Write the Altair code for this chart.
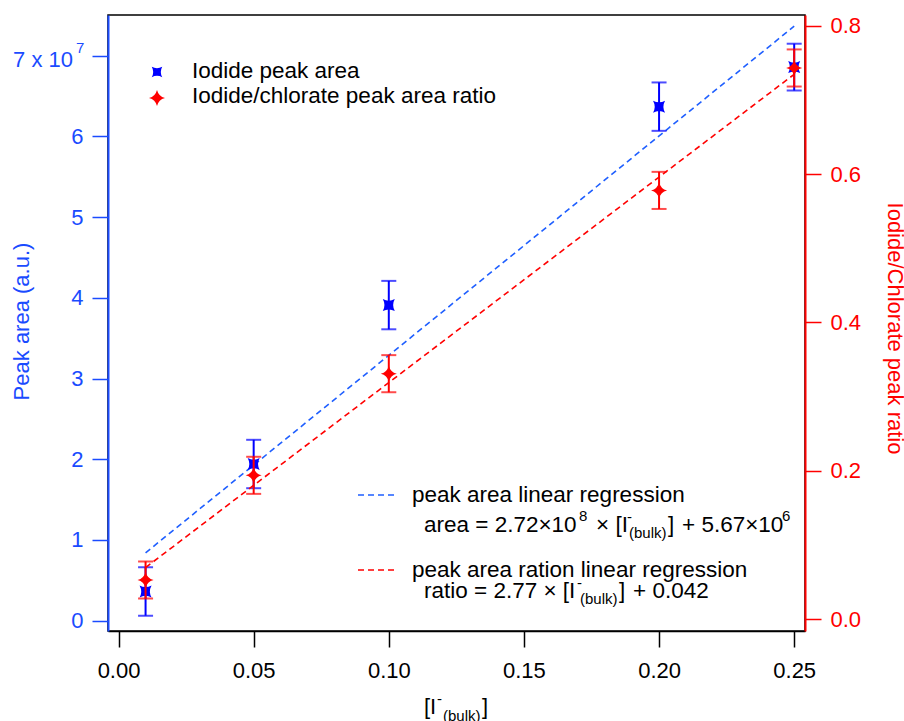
import altair as alt
import pandas as pd

# [I-] bulk concentrations and the two measured quantities
conc = [0.01, 0.05, 0.10, 0.20, 0.25]
peak_area = [0.36e7, 1.94e7, 3.91e7, 6.37e7, 6.86e7]
peak_area_err = [0.30e7, 0.30e7, 0.30e7, 0.30e7, 0.29e7]
peak_ratio = [0.053, 0.194, 0.331, 0.578, 0.743]
peak_ratio_err = [0.025, 0.025, 0.025, 0.025, 0.025]

# linear fits: (slope, intercept), drawn over the measured range
area_fit = (2.72e8, 5.67e6)
ratio_fit = (2.77, 0.042)
fit_range = [0.01, 0.25]

x_ticks = [0.0, 0.05, 0.10, 0.15, 0.20, 0.25]
area_ticks = [0, 1e7, 2e7, 3e7, 4e7, 5e7, 6e7, 7e7]
ratio_ticks = [0.0, 0.2, 0.4, 0.6, 0.8]

FONT = "Liberation Sans"
BLUE_AXIS = "#1a4bff"
BLUE_MARK = "#0000ff"
BLUE_FIT = "#1f5fff"
RED = "#ff0000"
OX, OY = 108, 15  # plot origin on the page
W, H = 697, 616
KEY = 22.5  # font size of the key texts

pts = pd.DataFrame({
    "conc": conc,
    "area": peak_area,
    "area_lo": [v - e for v, e in zip(peak_area, peak_area_err)],
    "area_hi": [v + e for v, e in zip(peak_area, peak_area_err)],
    "ratio": peak_ratio,
    "ratio_lo": [v - e for v, e in zip(peak_ratio, peak_ratio_err)],
    "ratio_hi": [v + e for v, e in zip(peak_ratio, peak_ratio_err)],
})
fit = pd.DataFrame({
    "conc": fit_range,
    "area": [area_fit[0] * c + area_fit[1] for c in fit_range],
    "ratio": [ratio_fit[0] * c + ratio_fit[1] for c in fit_range],
})
anchor = pd.DataFrame({"k": [0]})

# marker outlines in the unit square
BOWTIE = "M-1,-1Q0,-0.45,1,-1Q0.45,0,1,1Q0,0.45,-1,1Q-0.45,0,-1,-1Z"
STAR4 = "M0,-1Q0.2,-0.2,1,0Q0.2,0.2,0,1Q-0.2,0.2,-1,0Q-0.2,-0.2,0,-1Z"

x_scale = alt.Scale(domain=[-0.0039, 0.2540], nice=False, zero=False)
x_axis = alt.Axis(values=x_ticks, format=".2f", title=None, grid=False,
                  domainColor="black", tickColor="black", labelColor="black",
                  domainWidth=1.5, tickWidth=1.5, tickSize=16,
                  labelFont=FONT, labelFontSize=22, labelPadding=13, labelFlush=False)
X = alt.X("conc:Q", scale=x_scale, axis=x_axis)

area_scale = alt.Scale(domain=[-0.13e7, 7.506e7], nice=False, zero=False)
area_axis = alt.Axis(orient="left", values=area_ticks, grid=False,
                     labelExpr="datum.value >= 70000000 ? '' : format(datum.value / 1e7, 'd')",
                     domainColor=BLUE_AXIS, tickColor=BLUE_AXIS, labelColor=BLUE_AXIS,
                     domainWidth=2, tickWidth=1.5, tickSize=16,
                     labelFont=FONT, labelFontSize=22, labelPadding=9,
                     title="Peak area (a.u.)", titleColor=BLUE_AXIS, titleFont=FONT,
                     titleFontSize=22, titleFontWeight="normal", titleAngle=270,
                     titleBaseline="alphabetic", titleAlign="center",
                     titleX=-80, titleY=306)

ratio_scale = alt.Scale(domain=[-0.0158, 0.8144], nice=False, zero=False)
ratio_axis = alt.Axis(orient="right", values=ratio_ticks, format=".1f", grid=False,
                      domainColor=RED, tickColor=RED, labelColor=RED,
                      domainWidth=2, tickWidth=1.5, tickSize=16,
                      labelFont=FONT, labelFontSize=22, labelPadding=9,
                      title="Iodide/Chlorate peak ratio", titleColor=RED, titleFont=FONT,
                      titleFontSize=22, titleFontWeight="normal", titleAngle=90,
                      titleBaseline="alphabetic", titleAlign="center",
                      titleX=82, titleY=313)


def series(field, scale, axis, mark_color, fit_color, shape, size):
    y = lambda f: alt.Y(f"{f}:Q", scale=scale, axis=axis)
    line = alt.Chart(fit).mark_line(strokeDash=[6, 4], strokeWidth=1.6, color=fit_color).encode(
        x=X, y=y(field))
    bar = alt.Chart(pts).mark_rule(strokeWidth=2, color=mark_color).encode(
        x=X, y=y(f"{field}_lo"), y2=f"{field}_hi:Q")
    cap_lo = alt.Chart(pts).mark_tick(orient="horizontal", size=15, thickness=2, color=mark_color).encode(
        x=X, y=y(f"{field}_lo"))
    cap_hi = alt.Chart(pts).mark_tick(orient="horizontal", size=15, thickness=2, color=mark_color).encode(
        x=X, y=y(f"{field}_hi"))
    dots = alt.Chart(pts).mark_point(shape=shape, size=size, filled=True, opacity=1,
                                     color=mark_color, strokeWidth=0).encode(
        x=X, y=y(field))
    return alt.layer(line, bar, cap_lo, cap_hi, dots)


area_layer = series("area", area_scale, area_axis, BLUE_MARK, BLUE_FIT, BOWTIE, 144)
ratio_layer = series("ratio", ratio_scale, ratio_axis, RED, RED, STAR4, 256)


def piece(s, x, y, size=KEY, color="black", align="left"):
    return alt.Chart(anchor).mark_text(text=s, align=align, baseline="alphabetic",
                                       font=FONT, fontSize=size, color=color).encode(
        x=alt.value(x - OX), y=alt.value(y - OY))


def marker(shape, size, color, x, y):
    return alt.Chart(anchor).mark_point(shape=shape, size=size, filled=True, opacity=1,
                                        color=color, strokeWidth=0).encode(
        x=alt.value(x - OX), y=alt.value(y - OY))


def dash(color, y):
    return alt.Chart(anchor).mark_rule(strokeDash=[6, 4], strokeWidth=1.6, color=color).encode(
        x=alt.value(358 - OX), x2=alt.value(397 - OX), y=alt.value(y - OY))


notes = [
    # top tick label of the left axis, written with its exponent
    piece("7 x 10", 73, 67, 22, BLUE_AXIS, "right"),
    piece("7", 76, 53, 15, BLUE_AXIS),
    # marker key
    marker(BOWTIE, 110, BLUE_MARK, 157, 72),
    piece("Iodide peak area", 192, 78),
    marker(STAR4, 256, RED, 157, 98),
    piece("Iodide/chlorate peak area ratio", 192, 103),
    # fit key, area
    dash(BLUE_FIT, 495),
    piece("peak area linear regression", 412, 502),
    piece("area = 2.72×10", 424, 532),
    piece("8", 579, 521, 15),
    piece("× [I", 596, 532),
    piece("-", 627, 522, 15),
    piece("(bulk)", 629, 538, 15),
    piece("]", 668, 532),
    piece("+ 5.67×10", 682, 532),
    piece("6", 782, 521, 15),
    # fit key, ratio
    dash(RED, 570),
    piece("peak area ration linear regression", 412, 577),
    piece("ratio = 2.77 × [I", 424, 598),
    piece("-", 577, 588, 15),
    piece("(bulk)", 580, 604, 15),
    piece("]", 619, 598),
    piece("+ 0.042", 633, 598),
    # x axis title
    piece("[I", 424, 714, 22),
    piece("-", 437, 704, 15),
    piece("(bulk)", 443, 721, 15),
    piece("]", 482, 714, 22),
]

chart = alt.layer(area_layer, ratio_layer, *notes).resolve_scale(
    y="independent"
).properties(
    width=W, height=H,
    padding={"left": OX, "top": OY, "right": 904 - OX - W, "bottom": 721 - OY - H},
    autosize=alt.AutoSizeParams(type="none"),
    background="white",
).configure_view(stroke="black", strokeWidth=1.5)

chart.save("out.html", embed_options={"renderer": "svg", "actions": False})
